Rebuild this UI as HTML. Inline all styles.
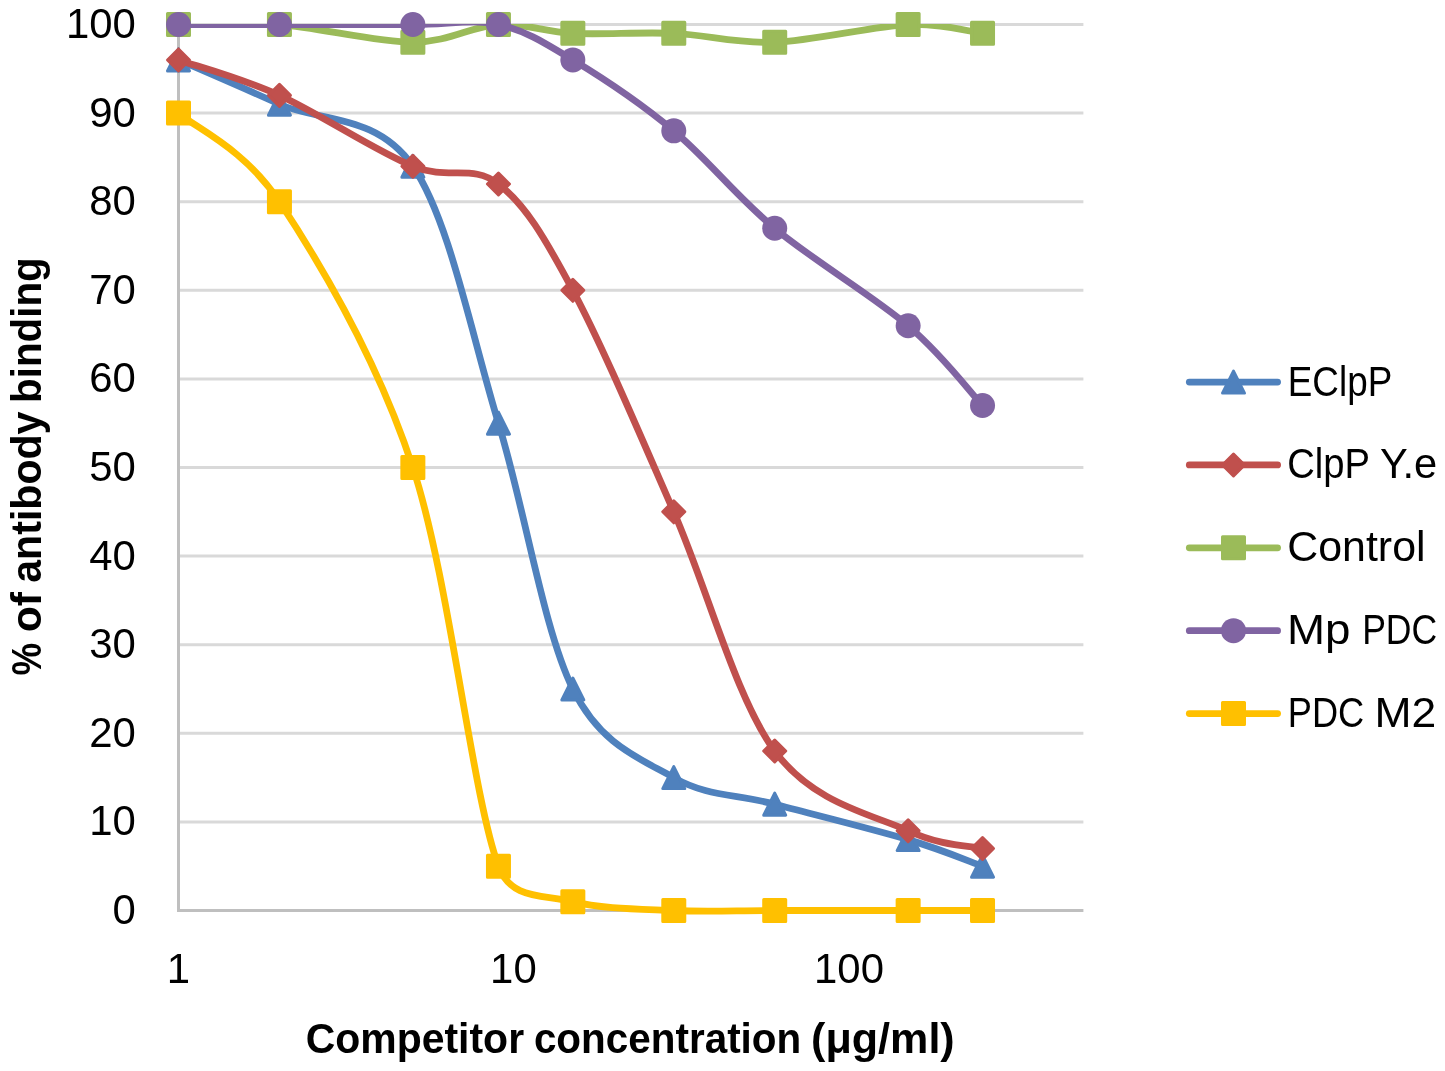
<!DOCTYPE html>
<html><head><meta charset="utf-8"><style>
html,body{margin:0;padding:0;background:#fff;width:1445px;height:1071px;overflow:hidden}
svg{display:block;will-change:transform}
text{font-family:"Liberation Sans",sans-serif;fill:#000}
</style></head><body>
<svg width="1445" height="1071" viewBox="0 0 1445 1071">
<rect width="1445" height="1071" fill="#fff"/>
<defs><clipPath id="pa"><rect x="170" y="24" width="920" height="1000"/></clipPath></defs>
<line x1="178.50" y1="821.90" x2="1083.40" y2="821.90" stroke="#D9D9D9" stroke-width="3"/>
<line x1="178.50" y1="733.30" x2="1083.40" y2="733.30" stroke="#D9D9D9" stroke-width="3"/>
<line x1="178.50" y1="644.70" x2="1083.40" y2="644.70" stroke="#D9D9D9" stroke-width="3"/>
<line x1="178.50" y1="556.10" x2="1083.40" y2="556.10" stroke="#D9D9D9" stroke-width="3"/>
<line x1="178.50" y1="467.50" x2="1083.40" y2="467.50" stroke="#D9D9D9" stroke-width="3"/>
<line x1="178.50" y1="378.90" x2="1083.40" y2="378.90" stroke="#D9D9D9" stroke-width="3"/>
<line x1="178.50" y1="290.30" x2="1083.40" y2="290.30" stroke="#D9D9D9" stroke-width="3"/>
<line x1="178.50" y1="201.70" x2="1083.40" y2="201.70" stroke="#D9D9D9" stroke-width="3"/>
<line x1="178.50" y1="113.10" x2="1083.40" y2="113.10" stroke="#D9D9D9" stroke-width="3"/>
<line x1="178.50" y1="24.50" x2="1083.40" y2="24.50" stroke="#D9D9D9" stroke-width="3"/>
<line x1="178.50" y1="23.00" x2="178.50" y2="912.00" stroke="#BFBFBF" stroke-width="3"/>
<line x1="177.00" y1="910.50" x2="1083.40" y2="910.50" stroke="#BFBFBF" stroke-width="3"/>
<text x="135.8" y="924.00" font-size="41.9" text-anchor="end">0</text>
<text x="135.8" y="835.40" font-size="41.9" text-anchor="end">10</text>
<text x="135.8" y="746.80" font-size="41.9" text-anchor="end">20</text>
<text x="135.8" y="658.20" font-size="41.9" text-anchor="end">30</text>
<text x="135.8" y="569.60" font-size="41.9" text-anchor="end">40</text>
<text x="135.8" y="481.00" font-size="41.9" text-anchor="end">50</text>
<text x="135.8" y="392.40" font-size="41.9" text-anchor="end">60</text>
<text x="135.8" y="303.80" font-size="41.9" text-anchor="end">70</text>
<text x="135.8" y="215.20" font-size="41.9" text-anchor="end">80</text>
<text x="135.8" y="126.60" font-size="41.9" text-anchor="end">90</text>
<text x="135.8" y="38.00" font-size="41.9" text-anchor="end">100</text>
<text x="178.50" y="982.6" font-size="41.9" text-anchor="middle">1</text>
<text x="513.40" y="982.6" font-size="41.9" text-anchor="middle">10</text>
<text x="849.00" y="982.6" font-size="41.9" text-anchor="middle">100</text>
<path d="M178.50,59.94 C195.32,67.32 240.37,86.52 279.44,104.24 C318.50,121.96 376.36,113.10 412.86,166.26 C449.37,219.42 471.79,336.08 498.46,423.20 C525.12,510.32 543.62,629.93 572.84,689.00 C600.78,745.47 640.13,758.40 673.78,777.60 C707.42,796.80 735.65,793.84 774.71,804.18 C813.77,814.52 873.51,829.28 908.14,839.62 C942.78,849.96 970.13,861.77 982.53,866.20" fill="none" stroke="#4F81BD" stroke-width="6.8" stroke-linecap="round" stroke-linejoin="round" clip-path="url(#pa)"/>
<path d="M178.50,48.94 L189.50,70.94 L167.50,70.94 Z" fill="#4F81BD" stroke="#4F81BD" stroke-width="3.0" stroke-linejoin="round"/>
<path d="M279.44,93.24 L290.44,115.24 L268.44,115.24 Z" fill="#4F81BD" stroke="#4F81BD" stroke-width="3.0" stroke-linejoin="round"/>
<path d="M412.86,155.26 L423.86,177.26 L401.86,177.26 Z" fill="#4F81BD" stroke="#4F81BD" stroke-width="3.0" stroke-linejoin="round"/>
<path d="M498.46,412.20 L509.46,434.20 L487.46,434.20 Z" fill="#4F81BD" stroke="#4F81BD" stroke-width="3.0" stroke-linejoin="round"/>
<path d="M572.84,678.00 L583.84,700.00 L561.84,700.00 Z" fill="#4F81BD" stroke="#4F81BD" stroke-width="3.0" stroke-linejoin="round"/>
<path d="M673.78,766.60 L684.78,788.60 L662.78,788.60 Z" fill="#4F81BD" stroke="#4F81BD" stroke-width="3.0" stroke-linejoin="round"/>
<path d="M774.71,793.18 L785.71,815.18 L763.71,815.18 Z" fill="#4F81BD" stroke="#4F81BD" stroke-width="3.0" stroke-linejoin="round"/>
<path d="M908.14,828.62 L919.14,850.62 L897.14,850.62 Z" fill="#4F81BD" stroke="#4F81BD" stroke-width="3.0" stroke-linejoin="round"/>
<path d="M982.53,855.20 L993.53,877.20 L971.53,877.20 Z" fill="#4F81BD" stroke="#4F81BD" stroke-width="3.0" stroke-linejoin="round"/>
<path d="M178.50,59.94 C195.32,65.85 240.37,77.66 279.44,95.38 C318.50,113.10 376.36,151.49 412.86,166.26 C449.37,181.03 471.79,163.31 498.46,183.98 C525.12,204.65 543.62,235.66 572.84,290.30 C602.06,344.94 640.13,435.01 673.78,511.80 C707.42,588.59 735.65,697.86 774.71,751.02 C813.77,804.18 873.51,814.52 908.14,830.76 C941.85,846.57 970.13,845.53 982.53,848.48" fill="none" stroke="#C0504D" stroke-width="6.8" stroke-linecap="round" stroke-linejoin="round" clip-path="url(#pa)"/>
<path d="M178.50,48.94 L189.50,59.94 L178.50,70.94 L167.50,59.94 Z" fill="#C0504D" stroke="#C0504D" stroke-width="3.0" stroke-linejoin="round"/>
<path d="M279.44,84.38 L290.44,95.38 L279.44,106.38 L268.44,95.38 Z" fill="#C0504D" stroke="#C0504D" stroke-width="3.0" stroke-linejoin="round"/>
<path d="M412.86,155.26 L423.86,166.26 L412.86,177.26 L401.86,166.26 Z" fill="#C0504D" stroke="#C0504D" stroke-width="3.0" stroke-linejoin="round"/>
<path d="M498.46,172.98 L509.46,183.98 L498.46,194.98 L487.46,183.98 Z" fill="#C0504D" stroke="#C0504D" stroke-width="3.0" stroke-linejoin="round"/>
<path d="M572.84,279.30 L583.84,290.30 L572.84,301.30 L561.84,290.30 Z" fill="#C0504D" stroke="#C0504D" stroke-width="3.0" stroke-linejoin="round"/>
<path d="M673.78,500.80 L684.78,511.80 L673.78,522.80 L662.78,511.80 Z" fill="#C0504D" stroke="#C0504D" stroke-width="3.0" stroke-linejoin="round"/>
<path d="M774.71,740.02 L785.71,751.02 L774.71,762.02 L763.71,751.02 Z" fill="#C0504D" stroke="#C0504D" stroke-width="3.0" stroke-linejoin="round"/>
<path d="M908.14,819.76 L919.14,830.76 L908.14,841.76 L897.14,830.76 Z" fill="#C0504D" stroke="#C0504D" stroke-width="3.0" stroke-linejoin="round"/>
<path d="M982.53,837.48 L993.53,848.48 L982.53,859.48 L971.53,848.48 Z" fill="#C0504D" stroke="#C0504D" stroke-width="3.0" stroke-linejoin="round"/>
<path d="M178.50,24.50 C195.32,24.50 240.37,21.55 279.44,24.50 C318.50,27.45 376.36,42.22 412.86,42.22 C449.37,42.22 471.79,25.98 498.46,24.50 C525.12,23.02 543.62,31.88 572.84,33.36 C602.06,34.84 640.13,31.88 673.78,33.36 C707.42,34.84 735.65,43.70 774.71,42.22 C813.77,40.74 873.51,25.98 908.14,24.50 C942.78,23.02 970.13,31.88 982.53,33.36" fill="none" stroke="#9BBB59" stroke-width="6.8" stroke-linecap="round" stroke-linejoin="round" clip-path="url(#pa)"/>
<rect x="167.50" y="13.50" width="22.00" height="22.00" fill="#9BBB59" stroke="#9BBB59" stroke-width="3.0" stroke-linejoin="round"/>
<rect x="268.44" y="13.50" width="22.00" height="22.00" fill="#9BBB59" stroke="#9BBB59" stroke-width="3.0" stroke-linejoin="round"/>
<rect x="401.86" y="31.22" width="22.00" height="22.00" fill="#9BBB59" stroke="#9BBB59" stroke-width="3.0" stroke-linejoin="round"/>
<rect x="487.46" y="13.50" width="22.00" height="22.00" fill="#9BBB59" stroke="#9BBB59" stroke-width="3.0" stroke-linejoin="round"/>
<rect x="561.84" y="22.36" width="22.00" height="22.00" fill="#9BBB59" stroke="#9BBB59" stroke-width="3.0" stroke-linejoin="round"/>
<rect x="662.78" y="22.36" width="22.00" height="22.00" fill="#9BBB59" stroke="#9BBB59" stroke-width="3.0" stroke-linejoin="round"/>
<rect x="763.71" y="31.22" width="22.00" height="22.00" fill="#9BBB59" stroke="#9BBB59" stroke-width="3.0" stroke-linejoin="round"/>
<rect x="897.14" y="13.50" width="22.00" height="22.00" fill="#9BBB59" stroke="#9BBB59" stroke-width="3.0" stroke-linejoin="round"/>
<rect x="971.53" y="22.36" width="22.00" height="22.00" fill="#9BBB59" stroke="#9BBB59" stroke-width="3.0" stroke-linejoin="round"/>
<path d="M178.50,24.50 C195.32,24.50 240.37,24.50 279.44,24.50 C318.50,24.50 376.36,24.50 412.86,24.50 C449.37,24.50 471.79,18.59 498.46,24.50 C525.12,30.41 543.62,42.22 572.84,59.94 C602.06,77.66 640.13,102.76 673.78,130.82 C707.42,158.88 735.65,195.79 774.71,228.28 C813.77,260.77 873.51,296.21 908.14,325.74 C942.78,355.27 970.13,392.19 982.53,405.48" fill="none" stroke="#8064A2" stroke-width="6.8" stroke-linecap="round" stroke-linejoin="round" clip-path="url(#pa)"/>
<circle cx="178.50" cy="24.50" r="12.50" fill="#8064A2"/>
<circle cx="279.44" cy="24.50" r="12.50" fill="#8064A2"/>
<circle cx="412.86" cy="24.50" r="12.50" fill="#8064A2"/>
<circle cx="498.46" cy="24.50" r="12.50" fill="#8064A2"/>
<circle cx="572.84" cy="59.94" r="12.50" fill="#8064A2"/>
<circle cx="673.78" cy="130.82" r="12.50" fill="#8064A2"/>
<circle cx="774.71" cy="228.28" r="12.50" fill="#8064A2"/>
<circle cx="908.14" cy="325.74" r="12.50" fill="#8064A2"/>
<circle cx="982.53" cy="405.48" r="12.50" fill="#8064A2"/>
<path d="M178.50,113.10 C195.32,127.87 244.06,148.20 279.44,201.70 C318.50,260.77 376.36,356.75 412.86,467.50 C449.37,578.25 471.79,793.84 498.46,866.20 C511.03,900.33 543.62,894.26 572.84,901.64 C602.06,909.02 640.13,909.02 673.78,910.50 C707.42,911.98 735.65,910.50 774.71,910.50 C813.77,910.50 873.51,910.50 908.14,910.50 C942.78,910.50 970.13,910.50 982.53,910.50" fill="none" stroke="#FFC000" stroke-width="6.8" stroke-linecap="round" stroke-linejoin="round" clip-path="url(#pa)"/>
<rect x="167.50" y="102.10" width="22.00" height="22.00" fill="#FFC000" stroke="#FFC000" stroke-width="3.0" stroke-linejoin="round"/>
<rect x="268.44" y="190.70" width="22.00" height="22.00" fill="#FFC000" stroke="#FFC000" stroke-width="3.0" stroke-linejoin="round"/>
<rect x="401.86" y="456.50" width="22.00" height="22.00" fill="#FFC000" stroke="#FFC000" stroke-width="3.0" stroke-linejoin="round"/>
<rect x="487.46" y="855.20" width="22.00" height="22.00" fill="#FFC000" stroke="#FFC000" stroke-width="3.0" stroke-linejoin="round"/>
<rect x="561.84" y="890.64" width="22.00" height="22.00" fill="#FFC000" stroke="#FFC000" stroke-width="3.0" stroke-linejoin="round"/>
<rect x="662.78" y="899.50" width="22.00" height="22.00" fill="#FFC000" stroke="#FFC000" stroke-width="3.0" stroke-linejoin="round"/>
<rect x="763.71" y="899.50" width="22.00" height="22.00" fill="#FFC000" stroke="#FFC000" stroke-width="3.0" stroke-linejoin="round"/>
<rect x="897.14" y="899.50" width="22.00" height="22.00" fill="#FFC000" stroke="#FFC000" stroke-width="3.0" stroke-linejoin="round"/>
<rect x="971.53" y="899.50" width="22.00" height="22.00" fill="#FFC000" stroke="#FFC000" stroke-width="3.0" stroke-linejoin="round"/>
<line x1="1189.3" y1="382.10" x2="1277.6" y2="382.10" stroke="#4F81BD" stroke-width="6.8" stroke-linecap="round"/>
<path d="M1233.50,371.10 L1244.50,393.10 L1222.50,393.10 Z" fill="#4F81BD" stroke="#4F81BD" stroke-width="3.0" stroke-linejoin="round"/>
<text transform="translate(1287.78,395.60) scale(0.8730,1)" font-size="42.2">EClpP</text>
<line x1="1189.3" y1="464.97" x2="1277.6" y2="464.97" stroke="#C0504D" stroke-width="6.8" stroke-linecap="round"/>
<path d="M1233.50,453.97 L1244.50,464.97 L1233.50,475.97 L1222.50,464.97 Z" fill="#C0504D" stroke="#C0504D" stroke-width="3.0" stroke-linejoin="round"/>
<text transform="translate(1287.19,478.47) scale(0.9050,1)" font-size="42.2">ClpP</text>
<text transform="translate(1380.03,478.47) scale(0.9873,1)" font-size="42.2">Y.e</text>
<line x1="1189.3" y1="547.84" x2="1277.6" y2="547.84" stroke="#9BBB59" stroke-width="6.8" stroke-linecap="round"/>
<rect x="1222.50" y="536.84" width="22.00" height="22.00" fill="#9BBB59" stroke="#9BBB59" stroke-width="3.0" stroke-linejoin="round"/>
<text transform="translate(1287.25,561.34) scale(1.0168,1)" font-size="42.2">Control</text>
<line x1="1189.3" y1="630.71" x2="1277.6" y2="630.71" stroke="#8064A2" stroke-width="6.8" stroke-linecap="round"/>
<circle cx="1233.50" cy="630.71" r="12.50" fill="#8064A2"/>
<text transform="translate(1286.99,644.21) scale(1.0823,1)" font-size="42.2">Mp</text>
<text transform="translate(1362.14,644.21) scale(0.8431,1)" font-size="42.2">PDC</text>
<line x1="1189.3" y1="713.58" x2="1277.6" y2="713.58" stroke="#FFC000" stroke-width="6.8" stroke-linecap="round"/>
<rect x="1222.50" y="702.58" width="22.00" height="22.00" fill="#FFC000" stroke="#FFC000" stroke-width="3.0" stroke-linejoin="round"/>
<text transform="translate(1287.78,727.08) scale(0.8574,1)" font-size="42.2">PDC</text>
<text transform="translate(1374.49,727.08) scale(1.0541,1)" font-size="42.2">M2</text>
<text transform="translate(305.76,1053.30) scale(0.9524,1)" font-size="43.0" font-weight="700">Competitor</text>
<text transform="translate(533.88,1053.30) scale(0.9406,1)" font-size="43.0" font-weight="700">concentration</text>
<text transform="translate(811.04,1053.30) scale(1.0026,1)" font-size="43.0" font-weight="700">(μg/ml)</text>
<text transform="translate(40.60,674.60) rotate(-90) translate(-0.86,0) scale(0.8449,1)" font-size="43.4" font-weight="700">%</text>
<text transform="translate(40.60,630.50) rotate(-90) translate(-1.71,0) scale(0.9835,1)" font-size="43.4" font-weight="700">of</text>
<text transform="translate(40.60,581.50) rotate(-90) translate(-1.23,0) scale(0.9468,1)" font-size="43.4" font-weight="700">antibody</text>
<text transform="translate(40.60,400.20) rotate(-90) translate(-2.69,0) scale(0.9292,1)" font-size="43.4" font-weight="700">binding</text>
</svg>
</body></html>
